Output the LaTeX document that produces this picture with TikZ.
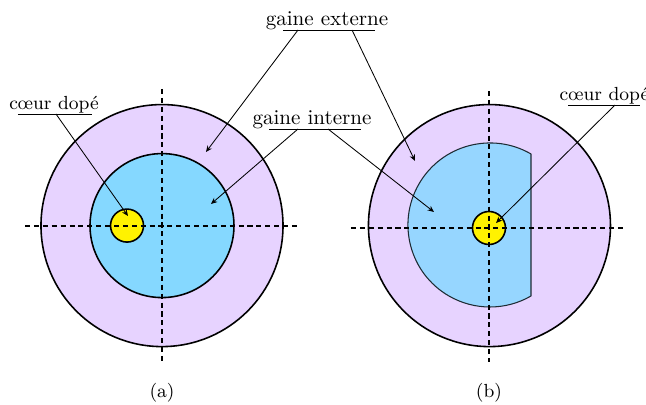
\documentclass[tikz,border=0pt]{standalone}
\usepackage{tikz}
\usetikzlibrary{arrows.meta,calc}
\usepackage{xcolor}
\definecolor{gaineext}{RGB}{231,211,255}
\definecolor{gaineint}{RGB}{133,216,255}
\definecolor{gainecoupe}{RGB}{150,214,255}
\tikzset{
  disque/.style={draw,line width=0.75pt},
  axe/.style={line width=0.75pt,dash pattern=on 2.4pt off 1.82pt},
  trait/.style={line width=0.45pt},
  fleche/.style={line width=0.4pt,-{Stealth[length=3pt,width=2.6pt]}},
  legende/.style={inner sep=0pt,anchor=base}
}
\begin{document}
\begin{tikzpicture}[line join=round]
\useasboundingbox (0,0) rectangle (10.767,6.75);
\fill[white] (0,0) rectangle (10.767,6.75);
\coordinate (ca) at (2.700,2.990);
\coordinate (cb) at (8.158,2.990);
\draw[disque,fill=gaineext] (ca) circle (2.017);
\draw[disque,fill=gaineint] (ca) circle (1.200);
\draw[disque,fill=yellow] (2.117,2.990) circle (0.275);
\draw[axe] (0.417,2.983) -- (4.950,2.983);
\draw[axe] (2.700,5.267) -- (2.700,0.733);
\draw[disque,fill=gaineext] (cb) circle (2.017);
\draw[line width=0.5pt,fill=gainecoupe,draw=black!80!gainecoupe] (8.850,4.184) arc (60:300:1.367) -- cycle;
\draw[disque,fill=yellow] (8.150,2.950) circle (0.275);
\draw[axe] (5.850,2.950) -- (10.417,2.950);
\draw[axe] (8.150,5.233) -- (8.150,0.717);
\node[legende] (ext) at (5.450,6.320) {gaine externe};
\node[legende] (int) at (5.200,4.670) {gaine interne};
\node[legende,font=\small] (coeura) at (0.900,4.920) {c\oe ur dop\'e};
\node[legende,font=\small] (coeurb) at (10.075,5.070) {c\oe ur dop\'e};
\node[legende,font=\small] (a) at (2.700,0.120) {(a)};
\node[legende,font=\small] (b) at (8.150,0.120) {(b)};
\coordinate (extg) at (4.717,6.250);
\coordinate (extd) at (6.250,6.250);
\coordinate (intg) at (4.483,4.600);
\coordinate (intd) at (6.017,4.600);
\coordinate (coeurag) at (0.300,4.850);
\coordinate (coeurad) at (1.533,4.850);
\coordinate (coeurbg) at (9.467,5.000);
\coordinate (coeurbd) at (10.667,5.000);
\draw[trait] (extg) -- (extd);
\draw[trait] (intg) -- (intd);
\draw[trait] (coeurag) -- (coeurad);
\draw[trait] (coeurbg) -- (coeurbd);
\coordinate (ext1) at (4.967,6.250);
\coordinate (ext2) at (5.867,6.250);
\coordinate (int1) at (4.967,4.600);
\coordinate (int2) at (5.467,4.600);
\coordinate (coeura1) at (0.933,4.850);
\coordinate (coeurb1) at (10.250,5.000);
\coordinate (pext1) at (3.433,4.217);
\coordinate (pext2) at (6.917,4.067);
\coordinate (pint1) at (3.517,3.350);
\coordinate (pint2) at (7.233,3.217);
\coordinate (pcoeura) at (2.133,3.150);
\coordinate (pcoeurb) at (8.267,3.033);
\draw[fleche] (ext1) -- (pext1);
\draw[fleche] (ext2) -- (pext2);
\draw[fleche] (int1) -- (pint1);
\draw[fleche] (int2) -- (pint2);
\draw[fleche] (coeura1) -- (pcoeura);
\draw[fleche] (coeurb1) -- (pcoeurb);
\end{tikzpicture}
\end{document}
